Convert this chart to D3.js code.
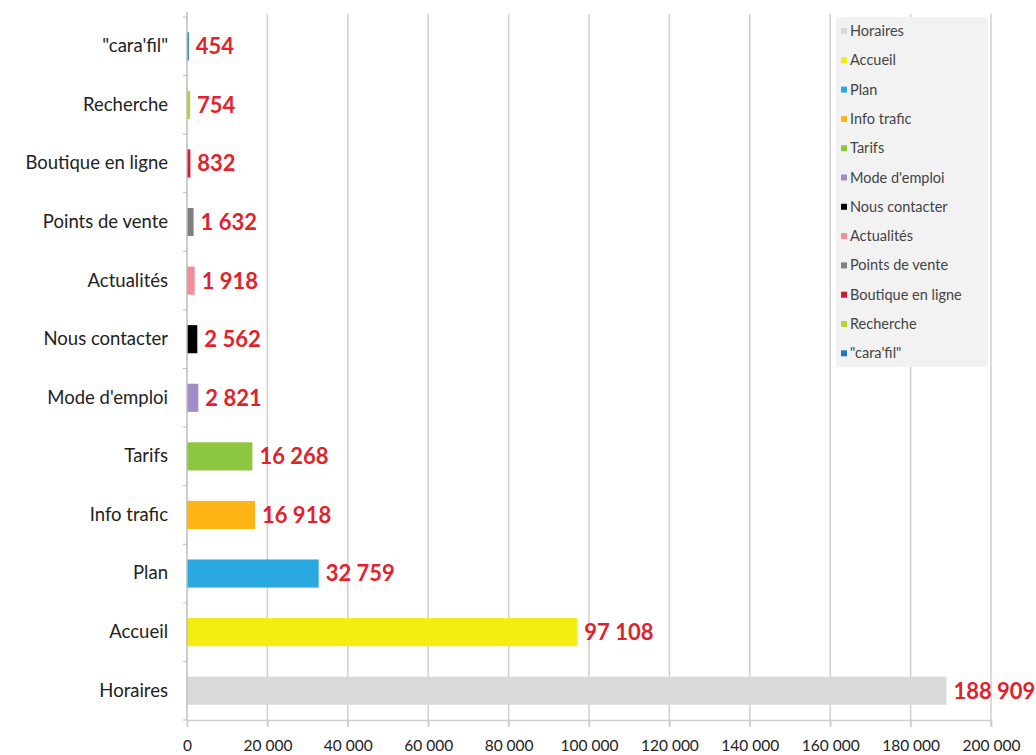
<!DOCTYPE html>
<html lang="fr">
<head>
<meta charset="utf-8">
<style>
    body { margin: 0; background: #fff; }
    text { font-family: Lato, "Open Sans", sans-serif; }
</style>
<script src="https://d3js.org/d3.v7.min.js"></script>
</head>
<body>
<script>
    var width = 1036, height = 755;

    // data, bottom to top as in the picture
    var categories = ["Horaires", "Accueil", "Plan", "Info trafic", "Tarifs", "Mode d'emploi",
                      "Nous contacter", "Actualités", "Points de vente", "Boutique en ligne",
                      "Recherche", "\"cara'fil\""];
    var values = [188909, 97108, 32759, 16918, 16268, 2821, 2562, 1918, 1632, 832, 754, 454];
    var colors = ["#d9d9d9", "#f5ec12", "#2aa8e0", "#fdb515", "#8dc63f", "#a48dc7",
                  "#000000", "#ee8f99", "#7f7f7f", "#d71a2b", "#b4d335", "#1f77c0"];
    var xTicks = [0, 20000, 40000, 60000, 80000, 100000, 120000, 140000, 160000, 180000, 200000];

    // "top" is taken by window.top, so use other names
    var mLeft = 187, mRight = 991, mTop = 17, mBottom = 720;

    var svg = d3.select("body").append("svg")
        .attr("width", width)
        .attr("height", height);

    var x = d3.scaleLinear().domain([0, 200000]).range([mLeft, mRight]);
    // top row is the last category
    var y = d3.scaleBand().domain(categories.slice().reverse()).range([mTop, mBottom])
        .paddingInner(0.52).paddingOuter(0.26);

    var fmt = function(v) { return d3.format(",")(v).replace(/,/g, " "); };

    // vertical grid lines
    svg.append("g").selectAll("line")
        .data(xTicks.slice(1))
        .enter().append("line")
        .attr("x1", function(d) { return x(d); })
        .attr("x2", function(d) { return x(d); })
        .attr("y1", 14)
        .attr("y2", 727)
        .attr("stroke", "#cfcfcf")
        .attr("stroke-width", 1.5);

    // legend box
    var legendX = 836, legendY = 17;
    svg.append("rect")
        .attr("x", legendX).attr("y", legendY)
        .attr("width", 152).attr("height", 350)
        .attr("fill", "#f2f2f2");

    var leg = svg.append("g").selectAll("g")
        .data(categories)
        .enter().append("g")
        .attr("transform", function(d, i) { return "translate(" + (legendX + 5) + "," + (legendY + 14 + i * 29.3) + ")"; });
    leg.append("rect")
        .attr("x", 0).attr("y", -3)
        .attr("width", 6).attr("height", 6)
        .attr("fill", function(d, i) { return colors[i]; });
    leg.append("text")
        .attr("x", 9).attr("y", 0)
        .attr("dy", "0.35em")
        .attr("font-size", 14.5)
        .attr("fill", "#444")
        .text(function(d) { return d; });

    // bars
    svg.append("g").selectAll("rect")
        .data(values)
        .enter().append("rect")
        .attr("x", x(0))
        .attr("y", function(d, i) { return y(categories[i]); })
        .attr("width", function(d) { return x(d) - x(0); })
        .attr("height", y.bandwidth())
        .attr("fill", function(d, i) { return colors[i]; });

    // value labels
    svg.append("g").selectAll("text")
        .data(values)
        .enter().append("text")
        .attr("x", function(d) { return x(d) + 7; })
        .attr("y", function(d, i) { return y(categories[i]) + y.bandwidth() / 2; })
        .attr("dy", "0.36em")
        .attr("font-size", 22)
        .attr("font-weight", "bold")
        .attr("fill", "#e0222d")
        .text(function(d) { return fmt(d); });

    // y axis
    var yAxis = d3.axisLeft(y).tickSize(0).tickPadding(19);
    var gy = svg.append("g")
        .attr("transform", "translate(" + mLeft + ",0)")
        .call(yAxis);
    gy.select(".domain").attr("stroke", "#bdbdbd").attr("stroke-width", 1.5)
        .attr("d", "M0," + (mTop - 5) + "V" + mBottom);
    gy.selectAll("text").attr("font-size", 18.5).attr("fill", "#222")
        .style("font-family", "Lato, sans-serif");
    // little ticks between categories
    var step = y.step();
    var y0 = mTop + (mBottom - mTop - step * categories.length) / 2;
    gy.selectAll(".sep")
        .data(d3.range(0, categories.length + 1))
        .enter().append("line")
        .attr("x1", -4).attr("x2", 0)
        .attr("y1", function(i) { return y0 + i * step; })
        .attr("y2", function(i) { return y0 + i * step; })
        .attr("stroke", "#bdbdbd");

    // x axis
    var xAxis = d3.axisBottom(x).tickValues(xTicks).tickSize(7).tickPadding(13)
        .tickFormat(function(d) { return fmt(d); });
    var gx = svg.append("g")
        .attr("transform", "translate(0," + mBottom + ")")
        .call(xAxis);
    gx.select(".domain").attr("stroke", "#cfcfcf").attr("stroke-width", 1.5);
    gx.selectAll(".tick line").attr("stroke", "#cfcfcf").attr("stroke-width", 1.5);
    gx.selectAll("text").attr("font-size", 15.5).attr("fill", "#222")
        .style("font-family", "Lato, sans-serif");
</script>
</body>
</html>
